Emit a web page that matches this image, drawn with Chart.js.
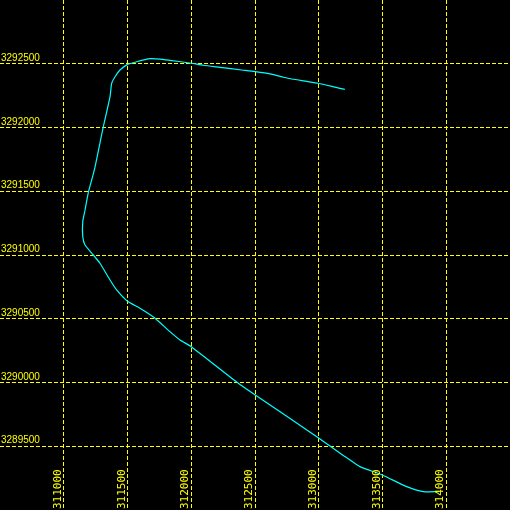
<!DOCTYPE html>
<html>
<head>
<meta charset="utf-8">
<script src="https://cdn.jsdelivr.net/npm/chart.js@4"></script>
<style>
  html, body { margin: 0; padding: 0; background: #000; }
  #wrap { width: 510px; height: 510px; position: relative; }
</style>
</head>
<body>
<div id="wrap"><canvas id="myChart"></canvas></div>
<script>
// track coordinates (easting / northing)
var trackX = [313206, 313167, 312996, 312879, 312722, 312618, 312502, 312396, 312226, 312095,
              312000, 311833, 311755, 311676, 311572, 311498, 311441, 311402, 311376, 311363,
              311310, 311240, 311193, 311167, 311149, 311149, 311167, 311232, 311284, 311363,
              311415, 311498, 311598, 311716, 311833, 311912, 312000, 312369, 312502, 312996,
              313167, 313245, 313323, 313498, 313690, 313820, 313945];
var trackY = [3292300, 3292307, 3292347, 3292365, 3292394, 3292420, 3292438, 3292451, 3292472, 3292488,
              3292504, 3292527, 3292537, 3292540, 3292516, 3292493, 3292451, 3292398, 3292347, 3292242,
              3292004, 3291667, 3291492, 3291353, 3291261, 3291144, 3291078, 3291000, 3290935, 3290804,
              3290726, 3290639, 3290582, 3290504, 3290399, 3290333, 3290281, 3289994, 3289902, 3289567,
              3289445, 3289392, 3289340, 3289275, 3289183, 3289144, 3289144];

var xTicks = [311000, 311500, 312000, 312500, 313000, 313500, 314000];
var yTicks = [3289500, 3290000, 3290500, 3291000, 3291500, 3292000, 3292500];

var xMin = 310500, xMax = 314500;
var yMin = 3289000, yMax = 3293000;

var yellow = '#ffff00';

// 坐标标签画在图内
var tickLabels = {
    id: 'tickLabels',
    afterDraw: function (chart) {
        var ctx = chart.ctx;
        var xs = chart.scales.x;
        var ys = chart.scales.y;
        ctx.save();
        ctx.fillStyle = yellow;

        ctx.font = '10px "Liberation Sans Narrow", "Liberation Sans", sans-serif';
        ctx.textAlign = 'left';
        ctx.textBaseline = 'alphabetic';
        yTicks.forEach(function (v) {
            var py = ys.getPixelForValue(v);
            ctx.fillText(String(v), 1, py - 3);
        });

        ctx.font = '11px "DejaVu Sans Mono", monospace';
        xTicks.forEach(function (v) {
            var px = xs.getPixelForValue(v);
            ctx.save();
            ctx.translate(px - 3, chart.height);
            ctx.rotate(-Math.PI / 2);
            ctx.fillText(String(v), 1, 0);
            ctx.restore();
        });
        ctx.restore();
    }
};

var points = trackX.map(function (x, i) { return { x: x, y: trackY[i] }; });

var ctx = document.getElementById('myChart').getContext('2d');
var chart = new Chart(ctx, {
    type: 'scatter',
    data: {
        datasets: [{
            data: points,
            showLine: true,
            borderColor: '#00ffff',
            borderWidth: 1.2,
            pointRadius: 0,
            tension: 0.2,
            fill: false
        }]
    },
    options: {
        responsive: true,
        maintainAspectRatio: false,
        animation: false,
        layout: { padding: 0 },
        plugins: {
            legend: { display: false },
            tooltip: { enabled: false }
        },
        scales: {
            x: {
                type: 'linear',
                min: xMin,
                max: xMax,
                afterBuildTicks: function (scale) {
                    scale.ticks = xTicks.map(function (v) { return { value: v }; });
                },
                ticks: { display: false },
                border: { display: false, dash: [4, 2] },
                grid: {
                    color: yellow,
                    lineWidth: 1,
                    drawTicks: false
                }
            },
            y: {
                type: 'linear',
                min: yMin,
                max: yMax,
                afterBuildTicks: function (scale) {
                    scale.ticks = yTicks.map(function (v) { return { value: v }; });
                },
                ticks: { display: false },
                border: { display: false, dash: [4, 2] },
                grid: {
                    color: yellow,
                    lineWidth: 1,
                    drawTicks: false
                }
            }
        }
    },
    plugins: [tickLabels]
});
</script>
</body>
</html>
